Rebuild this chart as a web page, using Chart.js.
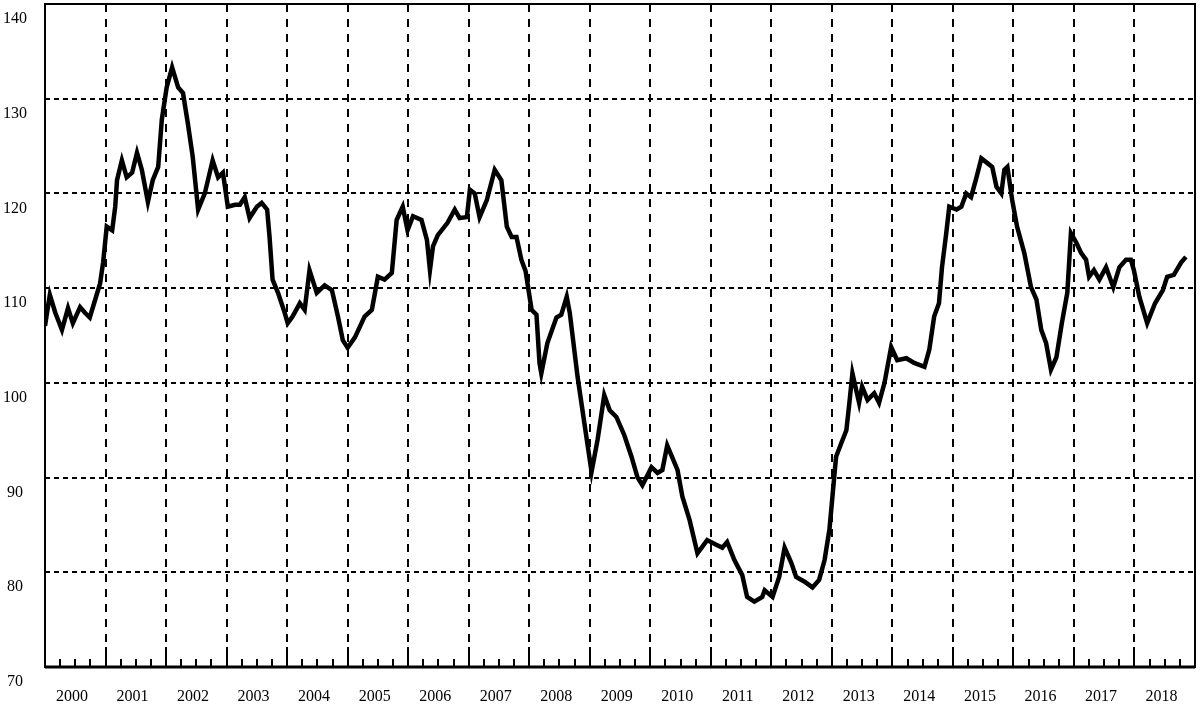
<!DOCTYPE html>
<html>
<head>
<meta charset="utf-8">
<script src="https://cdn.jsdelivr.net/npm/chart.js@4/dist/chart.umd.min.js"></script>
<style>
  body { margin: 0; background: #fff; }
  canvas { display: block; }
</style>
</head>
<body>
<canvas id="myChart" width="1200" height="708"></canvas>
<script>
// decimal years and index values
const years = [
  2000.00, 2000.08, 2000.17, 2000.28, 2000.38, 2000.46, 2000.58, 2000.66, 2000.74, 2000.83, 2000.91, 2000.96,
  2001.02, 2001.11, 2001.16, 2001.19, 2001.27, 2001.35, 2001.44, 2001.52, 2001.60, 2001.70, 2001.78, 2001.87, 2001.93,
  2002.01, 2002.10, 2002.20, 2002.28, 2002.36, 2002.44, 2002.53, 2002.64, 2002.77, 2002.86, 2002.94,
  2003.02, 2003.14, 2003.22, 2003.30, 2003.38, 2003.50, 2003.58, 2003.67, 2003.71, 2003.76, 2003.85, 2003.96,
  2004.01, 2004.09, 2004.21, 2004.29, 2004.37, 2004.49, 2004.62, 2004.74, 2004.84, 2004.92,
  2005.00, 2005.12, 2005.28, 2005.40, 2005.50, 2005.61, 2005.73, 2005.81, 2005.91, 2005.99,
  2006.08, 2006.22, 2006.31, 2006.36, 2006.41, 2006.49, 2006.65, 2006.77, 2006.85, 2006.97,
  2007.02, 2007.10, 2007.18, 2007.30, 2007.43, 2007.54, 2007.63, 2007.71, 2007.79, 2007.87, 2007.94,
  2008.04, 2008.12, 2008.17, 2008.20, 2008.30, 2008.45, 2008.53, 2008.62, 2008.67, 2008.80, 2008.91,
  2009.03, 2009.13, 2009.24, 2009.33, 2009.44, 2009.57, 2009.69, 2009.79, 2009.87,
  2010.02, 2010.12, 2010.20, 2010.28, 2010.45, 2010.53, 2010.65, 2010.78, 2010.94,
  2011.09, 2011.19, 2011.27, 2011.39, 2011.52, 2011.60, 2011.72, 2011.85, 2011.89,
  2012.02, 2012.13, 2012.22, 2012.33, 2012.41, 2012.55, 2012.68, 2012.79, 2012.88, 2012.96,
  2013.01, 2013.07, 2013.16, 2013.24, 2013.29, 2013.34, 2013.45, 2013.50, 2013.59, 2013.70, 2013.78, 2013.87, 2013.98,
  2014.08, 2014.23, 2014.36, 2014.53, 2014.61, 2014.69, 2014.77, 2014.82, 2014.89, 2014.94,
  2015.06, 2015.14, 2015.22, 2015.30, 2015.39, 2015.47, 2015.57, 2015.65, 2015.72, 2015.80, 2015.85, 2015.90, 2015.98,
  2016.06, 2016.18, 2016.29, 2016.38, 2016.46, 2016.54, 2016.62, 2016.71, 2016.80, 2016.89, 2016.95,
  2017.04, 2017.12, 2017.20, 2017.25, 2017.33, 2017.42, 2017.53, 2017.65, 2017.75, 2017.86, 2017.94, 2017.99,
  2018.08, 2018.21, 2018.34, 2018.47, 2018.54, 2018.65, 2018.77, 2018.85
];

const values = [
  106.0, 109.3, 107.4, 105.6, 107.9, 106.3, 108.0, 107.4, 106.9, 108.8, 110.5, 112.7,
  116.5, 116.1, 118.6, 121.4, 123.5, 121.7, 122.2, 124.3, 122.5, 119.1, 121.4, 122.8, 127.8,
  131.2, 133.3, 131.2, 130.6, 127.4, 123.9, 118.3, 120.0, 123.5, 121.7, 122.2,
  118.6, 118.8, 118.8, 119.6, 117.4, 118.6, 119.0, 118.3, 115.4, 110.9, 109.5, 107.4,
  106.3, 107.0, 108.4, 107.7, 111.9, 109.5, 110.3, 109.8, 107.0, 104.5,
  103.7, 104.8, 107.0, 107.7, 111.2, 110.9, 111.6, 117.2, 118.6, 116.1,
  117.6, 117.2, 115.1, 111.9, 114.4, 115.6, 116.9, 118.3, 117.4, 117.5,
  120.4, 120.0, 117.5, 119.3, 122.5, 121.4, 116.5, 115.4, 115.4, 113.0, 111.8,
  107.7, 107.2, 102.1, 101.0, 104.2, 106.9, 107.2, 109.1, 107.4, 100.6, 95.8,
  90.6, 94.0, 98.7, 97.1, 96.4, 94.5, 92.2, 90.0, 89.2,
  91.1, 90.5, 90.8, 93.4, 90.8, 88.0, 85.5, 82.0, 83.4,
  82.9, 82.6, 83.2, 81.3, 79.7, 77.4, 76.9, 77.4, 78.1,
  77.4, 79.5, 82.6, 81.0, 79.5, 79.0, 78.4, 79.2, 81.3, 84.5,
  88.0, 92.2, 93.7, 95.0, 97.9, 101.0, 97.9, 99.6, 98.2, 98.9, 97.9, 100.0, 103.8,
  102.4, 102.6, 102.1, 101.7, 103.5, 107.0, 108.4, 112.2, 115.8, 118.6,
  118.3, 118.6, 120.0, 119.6, 121.7, 123.7, 123.2, 122.8, 120.7, 120.0, 122.5, 122.8, 119.3,
  116.5, 113.7, 110.1, 108.8, 105.6, 104.2, 101.4, 102.7, 106.3, 109.5, 115.8,
  114.8, 113.7, 113.0, 111.2, 111.9, 110.9, 112.2, 110.1, 112.2, 113.0, 113.0, 111.9,
  109.1, 106.3, 108.4, 109.8, 111.2, 111.4, 112.7, 113.3
];

const yearLabels = [2000, 2001, 2002, 2003, 2004, 2005, 2006, 2007, 2008, 2009,
                    2010, 2011, 2012, 2013, 2014, 2015, 2016, 2017, 2018];
const yMin = 70;
const yMax = 140;

// solid frame plus the small quarter ticks standing on the bottom axis
const frame = {
  id: 'frame',
  beforeDatasetsDraw(chart) {
    const {ctx, chartArea: a, scales: {x}} = chart;
    ctx.save();
    ctx.setLineDash([]);
    ctx.strokeStyle = '#000';
    ctx.lineWidth = 2;
    ctx.strokeRect(a.left, a.top, a.right - a.left, a.bottom - a.top);
    ctx.beginPath();
    for (let q = x.min; q <= x.max + 0.001; q += 0.25) {
      const px = Math.round(x.getPixelForValue(q));
      const len = Math.abs(q - Math.round(q)) < 0.001 ? 20 : 8;
      ctx.moveTo(px, a.bottom);
      ctx.lineTo(px, a.bottom - len);
    }
    ctx.stroke();
    ctx.lineWidth = 3;
    ctx.beginPath();
    ctx.moveTo(a.left, a.bottom);
    ctx.lineTo(a.right, a.bottom);
    ctx.stroke();
    ctx.restore();
  }
};

Chart.defaults.font.family = '"Liberation Serif", serif';
Chart.defaults.font.size = 16;
Chart.defaults.color = '#000';

new Chart(document.getElementById('myChart'), {
  type: 'line',
  data: {
    datasets: [{
      data: years.map((t, i) => ({x: t, y: values[i]})),
      borderColor: '#000',
      borderWidth: 4.5,
      pointRadius: 0,
      tension: 0,
      fill: false
    }]
  },
  options: {
    responsive: false,
    animation: false,
    layout: { padding: { top: 4, right: 5, left: 0, bottom: 0 } },
    plugins: { legend: { display: false }, tooltip: { enabled: false } },
    scales: {
      x: {
        type: 'linear',
        min: 2000,
        max: 2019,
        afterFit(scale) {
          scale.height = 41;
          scale.paddingLeft = 0;
          scale.paddingRight = 0;
        },
        grid: { color: '#000', lineWidth: 2, drawTicks: false },
        border: { display: false, dash: [8, 7] },
        ticks: {
          stepSize: 1,
          padding: 20,
          labelOffset: 27,
          maxRotation: 0,
          autoSkip: false,
          callback: v => yearLabels.includes(v) ? String(v) : ''
        }
      },
      y: {
        min: yMin,
        max: yMax,
        afterFit(scale) {
          scale.width = 45;
          scale.paddingTop = 0;
          scale.paddingBottom = 0;
        },
        grid: { color: '#000', lineWidth: 2, drawTicks: false },
        border: { display: false, dash: [5, 4] },
        ticks: {
          stepSize: 10,
          padding: 18,
          crossAlign: 'center',
          labelOffset: 15
        }
      }
    }
  },
  plugins: [frame]
});
</script>
</body>
</html>
